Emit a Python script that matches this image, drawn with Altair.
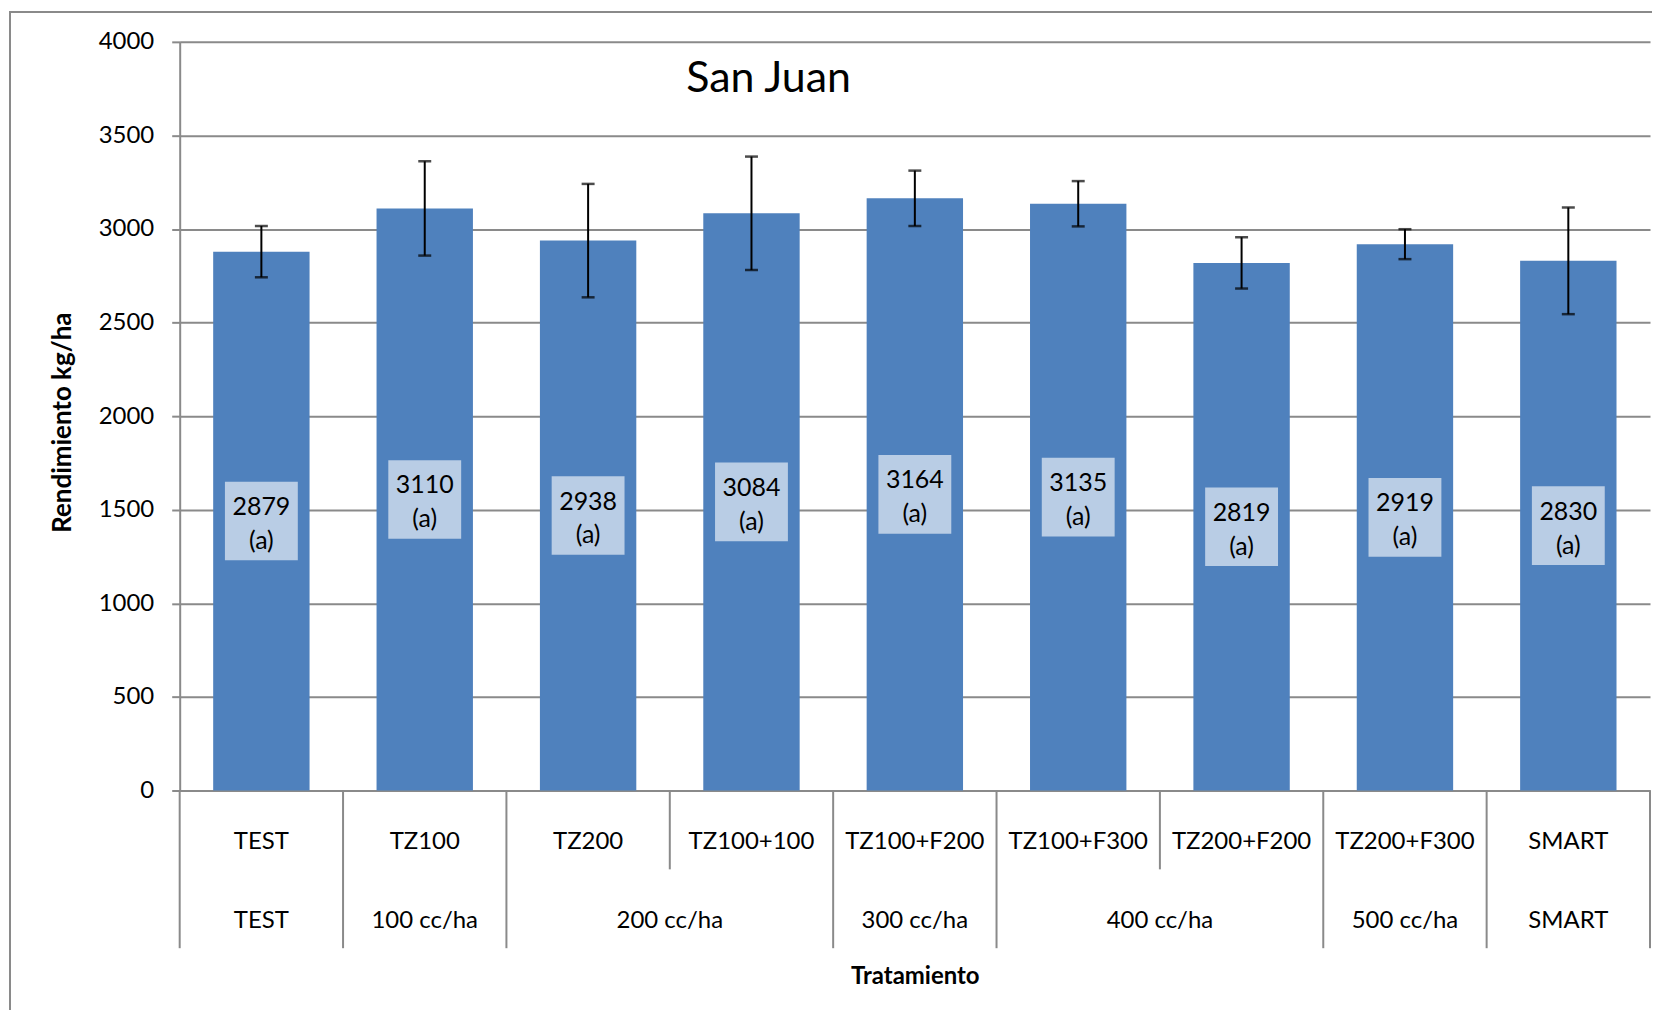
import altair as alt
import pandas as pd

# ---- data ----
treatments = ["TEST", "TZ100", "TZ200", "TZ100+100", "TZ100+F200",
              "TZ100+F300", "TZ200+F200", "TZ200+F300", "SMART"]
yields = [2879, 3110, 2938, 3084, 3164, 3135, 2819, 2919, 2830]
errors = [137, 252, 303, 303, 148, 121, 137, 80, 285]
letters = ["(a)", "(a)", "(a)", "(a)", "(a)", "(a)", "(a)", "(a)", "(a)"]
groups = ["TEST", "100 cc/ha", "200 cc/ha", "300 cc/ha", "400 cc/ha", "500 cc/ha", "SMART"]
group_sizes = [1, 1, 2, 1, 2, 1, 1]
y_ticks = [0, 500, 1000, 1500, 2000, 2500, 3000, 3500, 4000]
chart_title = ["San Juan"]

# ---- styling constants ----
W, H = 1473, 750
FONT = "Lato"
GRAY = "#8a8a8a"
BAR = "#4f81bd"
BOX = "#b9cde5"
BOX_HALF = 210  # half box height in data units

df = pd.DataFrame({"cat": treatments, "y": yields, "err": errors, "letter": letters})
df["lo"] = df["y"] - df["err"]
df["hi"] = df["y"] + df["err"]
df["mid"] = df["y"] / 2
df["blo"] = df["mid"] - BOX_HALF
df["bhi"] = df["mid"] + BOX_HALF
df["label"] = df["y"].astype(str) + "\n" + df["letter"]

# group spans -> separators and group label centres
starts = []
s = 0
for g in group_sizes:
    starts.append(s)
    s += g
n = len(treatments)
gdf = pd.DataFrame({"group": groups, "start": starts, "size": group_sizes})
gdf["center"] = gdf["start"] + gdf["size"] / 2
full_b = sorted(set(starts + [n]))
half_b = [k for k in range(n + 1) if k not in full_b]
full_df = pd.DataFrame({"pos": full_b})
half_df = pd.DataFrame({"pos": half_b})

xaxis = alt.Axis(title="Tratamiento", labelAngle=0, ticks=False, tickSize=0,
                 labelPadding=51, labelBaseline="middle",
                 labelFont=FONT, labelFontSize=24, labelColor="black",
                 domain=True, domainColor=GRAY, domainWidth=2, grid=False,
                 titleFont=FONT, titleFontSize=24, titleFontWeight="bold",
                 titleColor="black", titleY=186, titleBaseline="middle")
xscale = alt.Scale(paddingInner=0, paddingOuter=0)
xband = alt.X("cat:N", sort=treatments, scale=xscale, axis=xaxis)
yq = alt.Scale(domain=[0, 4000], nice=False)
yaxis = alt.Axis(values=y_ticks, format="d", title="Rendimiento kg/ha", grid=True,
                 gridColor=GRAY, gridWidth=2, domainColor=GRAY, domainWidth=2,
                 tickColor=GRAY, tickWidth=2, tickSize=8, labelPadding=18,
                 labelFont=FONT, labelFontSize=24, labelColor="black",
                 titleFont=FONT, titleFontSize=26, titleFontWeight="bold",
                 titleColor="black", titleX=-117, titleY=381,
                 titleBaseline="middle", titleAlign="center")

base = alt.Chart(df)
bars = base.mark_bar(width=alt.RelativeBandSize(0.59), color=BAR).encode(
    x=xband, y=alt.Y("y:Q", scale=yq, axis=yaxis))
rules = base.mark_rule(color="black", strokeWidth=2).encode(
    x=xband, y=alt.Y("lo:Q", scale=yq, axis=yaxis), y2="hi:Q")
cap_lo = base.mark_tick(color="black", size=13, thickness=2.5).encode(
    x=xband, y=alt.Y("lo:Q", scale=yq, axis=yaxis))
cap_hi = base.mark_tick(color="black", size=13, thickness=2.5).encode(
    x=xband, y=alt.Y("hi:Q", scale=yq, axis=yaxis))
boxes = base.mark_rect(width=73, color=BOX).encode(
    x=xband, y=alt.Y("blo:Q", scale=yq, axis=yaxis), y2="bhi:Q")
box_txt = base.mark_text(font=FONT, fontSize=25, lineBreak="\n", lineHeight=34,
                         baseline="middle", dy=-14, color="black").encode(
    x=xband, y=alt.Y("mid:Q", scale=yq, axis=yaxis), text="label:N")

band_layer = alt.layer(bars, rules, cap_lo, cap_hi, boxes, box_txt)

qscale = alt.Scale(domain=[0, n], nice=False, zero=False)
sep_full = alt.Chart(full_df).mark_rule(color=GRAY, strokeWidth=2).encode(
    x=alt.X("pos:Q", scale=qscale, axis=None), y=alt.value(H), y2=alt.value(H + 158))
sep_half = alt.Chart(half_df).mark_rule(color=GRAY, strokeWidth=2).encode(
    x=alt.X("pos:Q", scale=qscale, axis=None), y=alt.value(H), y2=alt.value(H + 79))
grp_txt = alt.Chart(gdf).mark_text(font=FONT, fontSize=24, baseline="middle",
                                   color="black").encode(
    x=alt.X("center:Q", scale=qscale, axis=None),
    y=alt.value(H + 131), text="group:N")
quant_layer = alt.layer(sep_full, sep_half, grp_txt)

tdf = pd.DataFrame({"t": chart_title})
title_txt = alt.Chart(tdf).mark_text(font=FONT, fontSize=43, align="center",
                                     baseline="middle", color="black").encode(
    x=alt.value(590), y=alt.value(37), text="t:N")
border = alt.Chart(tdf).mark_rect(fillOpacity=0, stroke=GRAY, strokeWidth=2).encode(
    x=alt.value(-170), x2=alt.value(1700), y=alt.value(-30), y2=alt.value(1100))

chart = alt.layer(band_layer, quant_layer, title_txt, border).resolve_scale(
    x="independent"
).properties(
    width=W, height=H,
    autosize=alt.AutoSizeParams(type="none"),
    padding={"left": 172, "top": 33, "right": 2, "bottom": 219},
    background="white",
).configure_view(strokeWidth=0)

chart.save("out.html", embed_options={"renderer": "svg", "actions": False})
